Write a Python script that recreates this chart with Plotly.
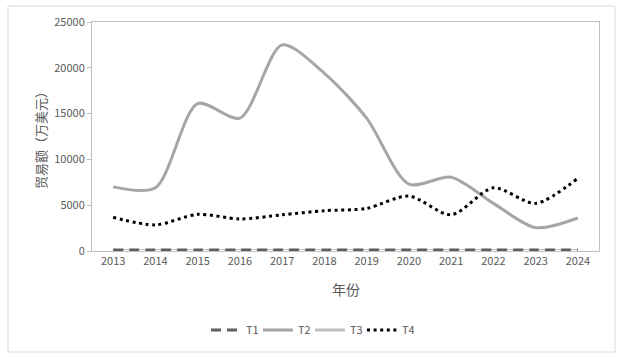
import plotly.graph_objects as go

years = ["2013", "2014", "2015", "2016", "2017", "2018", "2019", "2020", "2021", "2022", "2023", "2024"]
t1 = [120, 120, 120, 120, 120, 120, 120, 120, 120, 120, 120, 120]
t2 = [7000, 6900, 16100, 14500, 22500, 19400, 14500, 7300, 8050, 5200, 2550, 3600]
t3 = [60, 60, 60, 60, 60, 60, 60, 60, 60, 60, 60, 60]
t4 = [3680, 2850, 4000, 3500, 3950, 4400, 4650, 6000, 3950, 6900, 5200, 7950]

FONT = "Noto Sans CJK SC, Noto Sans, sans-serif"
fig = go.Figure()
fig.add_trace(go.Scatter(x=years, y=t3, name="T3", mode="lines", legendgroup="t3", legendrank=3,
                         line=dict(color="#bfbfbf", width=3, shape="spline", smoothing=0.8)))
fig.add_trace(go.Scatter(x=years, y=t3, name="T3", mode="lines", legendgroup="t3", showlegend=False,
                         line=dict(color="#ffffff", width=1, shape="spline", smoothing=0.8)))
fig.add_trace(go.Scatter(x=years, y=t1, name="T1", mode="lines", legendrank=1,
                         line=dict(color="#5f5f5f", width=3, dash="10px,6px", shape="spline", smoothing=0.8)))
fig.add_trace(go.Scatter(x=years, y=t2, name="T2", mode="lines", legendrank=2,
                         line=dict(color="#a6a6a6", width=3, shape="spline", smoothing=0.8)))
fig.add_trace(go.Scatter(x=years, y=t4, name="T4", mode="lines", legendrank=4,
                         line=dict(color="#000000", width=3, dash="3px,3.6px", shape="spline", smoothing=0.8)))

L, R, T, B = 92, 599, 22, 251
W, H = 621, 357
pw, ph = R - L, B - T

def px(x):
    return (x - L) / pw

def py(y):
    return (B - y) / ph

fig.update_layout(
    width=W, height=H,
    margin=dict(l=L, r=W - R, t=T, b=H - B),
    paper_bgcolor="white", plot_bgcolor="white",
    font=dict(family=FONT, size=11, color="#595959"),
    showlegend=True,
    legend=dict(orientation="h", x=px(310), y=py(330), xanchor="center", yanchor="middle",
                font=dict(size=11, color="#595959"), entrywidth=7, entrywidthmode="pixels",
                tracegroupgap=0, bgcolor="rgba(0,0,0,0)"),
    xaxis=dict(type="category", range=[-0.5, 11.5], showgrid=False, showline=True,
               linecolor="#bfbfbf", linewidth=1, mirror=True, ticks="",
               tickfont=dict(size=11, color="#595959"), zeroline=False),
    yaxis=dict(range=[0, 25000], dtick=5000, tickformat="d", showgrid=False, showline=True,
               linecolor="#bfbfbf", linewidth=1, mirror=True, ticks="outside",
               ticklen=4, tickcolor="#bfbfbf", tickfont=dict(size=11, color="#595959"),
               zeroline=False),
    annotations=[
        dict(text="年份", x=0.5, y=py(289), xref="paper", yref="paper", showarrow=False,
             xanchor="center", yanchor="middle", font=dict(size=14, color="#595959")),
        dict(text="贸易额（万美元）", x=px(40), y=py(137), xref="paper", yref="paper",
             showarrow=False, textangle=-90, xanchor="center", yanchor="middle",
             font=dict(size=13, color="#595959")),
    ],
    shapes=[
        dict(type="rect", xref="paper", yref="paper", x0=px(8), x1=px(615), y0=py(352), y1=py(6),
             line=dict(color="#d9d9d9", width=1), fillcolor="rgba(0,0,0,0)", layer="below"),
    ],
)

fig.write_html("out.html", config={"displayModeBar": False},
               post_script="document.body.style.margin='0';document.body.style.padding='0';")
